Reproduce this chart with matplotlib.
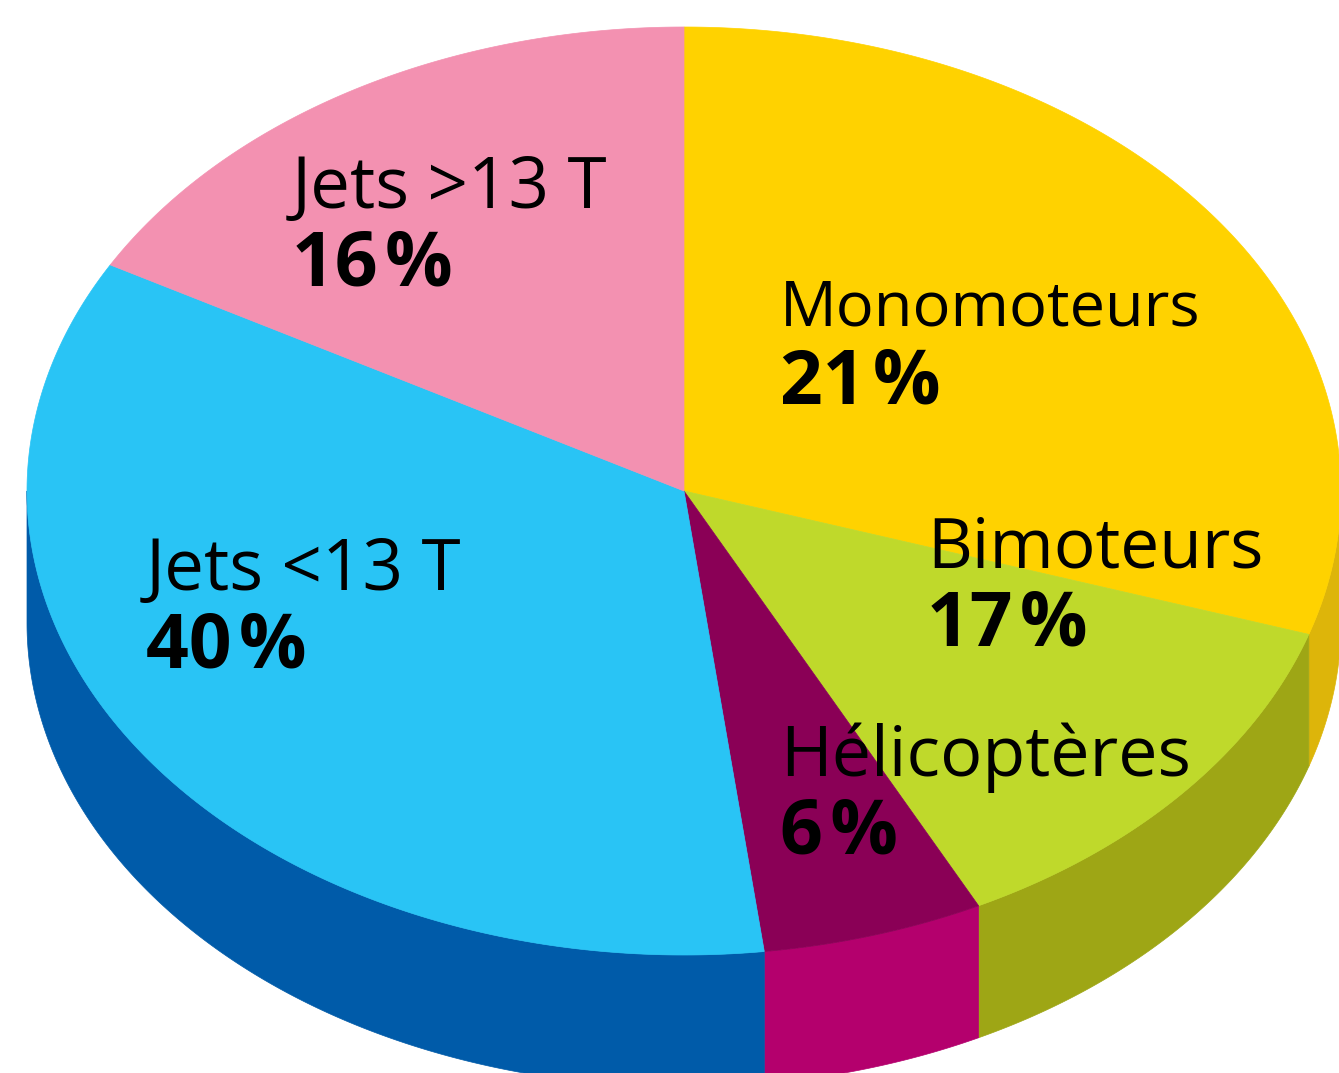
#!/usr/bin/env python3
"""Tilted 3D pie of aircraft categories, drawn as filled polygons."""

import numpy as np
import matplotlib
matplotlib.use("Agg")
import matplotlib.pyplot as plt

# Printed shares, clockwise from 12 o'clock
categories = ["Monomoteurs", "Bimoteurs", "Hélicoptères", "Jets <13 T", "Jets >13 T"]
printed_shares = [21, 17, 6, 40, 16]
# Slice sizes as drawn: the artwork does not follow the printed shares
drawn_shares = [30.0, 12.6, 5.45, 35.05, 16.9]

TOP_COLORS = ["#FFD200", "#BFD92B", "#8A0056", "#29C4F5", "#F391B1"]
WALL_COLORS = ["#DDB50A", "#9EA615", "#B4006D", "#005BA9", "#F391B1"]
# x, name baseline, share baseline, name font size
LABEL_POS = [(780, 326, 404, 45.5), (927, 567, 646, 50), (780, 776, 854, 50.5),
             (146, 590, 667, 51), (292, 208, 285, 51)]

CX, CY = 684, 491
RX, RY = 657, 464
DEPTH = 132
FONT = ["Open Sans", "DejaVu Sans"]


def rim(angles, drop=0):
    """Points on the pie rim for clockwise angles measured from the top."""
    return CX + RX * np.sin(angles), CY - RY * np.cos(angles) + drop


def main():
    fig = plt.figure(figsize=(13.39, 10.73), dpi=100, facecolor="white")
    ax = fig.add_axes([0, 0, 1, 1])
    ax.set_xlim(0, 1339)
    ax.set_ylim(1073, 0)
    ax.axis("off")

    edges = np.cumsum([0] + drawn_shares) / sum(drawn_shares) * 2 * np.pi

    # Side walls first, only the front half of the rim can be seen
    for i in range(len(categories)):
        start = max(edges[i], np.pi / 2)
        stop = min(edges[i + 1], 3 * np.pi / 2)
        if start >= stop:
            continue
        t = np.linspace(start, stop, 200)
        x, y = rim(t)
        xb, yb = rim(t[::-1], DEPTH)
        ax.fill(np.r_[x, xb], np.r_[y, yb], color=WALL_COLORS[i], lw=0.5)

    # Top face
    for i in range(len(categories)):
        t = np.linspace(edges[i], edges[i + 1], 300)
        x, y = rim(t)
        ax.fill(np.r_[CX, x], np.r_[CY, y], color=TOP_COLORS[i], lw=0.5)

    for name, share, (x, y1, y2, size) in zip(categories, printed_shares, LABEL_POS):
        ax.text(x, y1, name, fontsize=size, family=FONT, color="black",
                ha="left", va="baseline")
        ax.text(x, y2, f"{share}\u200a%", fontsize=54, family=FONT, fontweight="bold",
                color="black", ha="left", va="baseline")

    fig.savefig("out.png", dpi=100, facecolor="white")


if __name__ == "__main__":
    main()
